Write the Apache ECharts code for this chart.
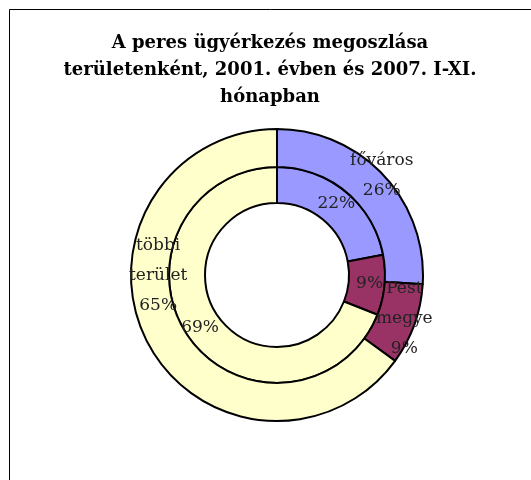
<!DOCTYPE html>
<html>
<head>
<meta charset="utf-8">
<script src="https://cdn.jsdelivr.net/npm/echarts@6/dist/echarts.min.js"></script>
<style>
  html, body { margin: 0; padding: 0; background: #fff; }
  #chart { width: 531px; height: 480px; }
</style>
</head>
<body>
<div id="chart"></div>
<script>
// regions, outer ring = 2007 I-XI., inner ring = 2001
const categories = ["főváros", "Pest megye", "többi terület"];
const values2007 = [26, 9, 65];
const values2001 = [22, 9, 69];
const colors = ["#9999FF", "#993366", "#FFFFCC"];

// nudges so the outer labels sit where the original puts them
const outerLabelShift = [[10, -10], [5, 0], [-3, -58]];

const chart = echarts.init(document.getElementById("chart"));

const labelFont = {
  fontFamily: "DejaVu Serif",
  fontSize: 17,
  lineHeight: 30,
  color: "#222",
};

const option = {
  animation: false,
  color: colors,
  title: {
    text: "A peres ügyérkezés megoszlása\nterületenként, 2001. évben és 2007. I-XI.\nhónapban",
    left: 270,
    top: 30,
    padding: 0,
    textAlign: "center",
    textStyle: {
      fontFamily: "DejaVu Serif",
      fontWeight: "bold",
      fontSize: 18,
      lineHeight: 27,
      color: "#000",
    },
  },
  graphic: [
    {
      type: "rect",
      shape: { x: 9.5, y: 9.5, width: 700, height: 700 },
      style: { fill: null, stroke: "#000", lineWidth: 1 },
      silent: true,
    },
  ],
  series: [
    {
      name: "2001",
      type: "pie",
      center: [277, 275],
      radius: [72, 108],
      startAngle: 90,
      clockwise: true,
      itemStyle: { borderColor: "#000", borderWidth: 2 },
      label: {
        position: "inside",
        formatter: (p) => p.value + "%",
        ...labelFont,
      },
      labelLine: { show: false },
      emphasis: { disabled: true },
      data: categories.map((name, i) => ({ name: name, value: values2001[i] })),
    },
    {
      name: "2007. I-XI.",
      type: "pie",
      center: [277, 275],
      radius: [108, 146],
      startAngle: 90,
      clockwise: true,
      itemStyle: { borderColor: "#000", borderWidth: 2 },
      label: {
        position: "inside",
        formatter: (p) => p.name.split(" ").join("\n") + "\n" + p.value + "%",
        ...labelFont,
      },
      labelLine: { show: false },
      labelLayout: (params) => ({
        dx: outerLabelShift[params.dataIndex][0],
        dy: outerLabelShift[params.dataIndex][1],
      }),
      emphasis: { disabled: true },
      data: categories.map((name, i) => ({ name: name, value: values2007[i] })),
    },
  ],
};

chart.setOption(option);
</script>
</body>
</html>
